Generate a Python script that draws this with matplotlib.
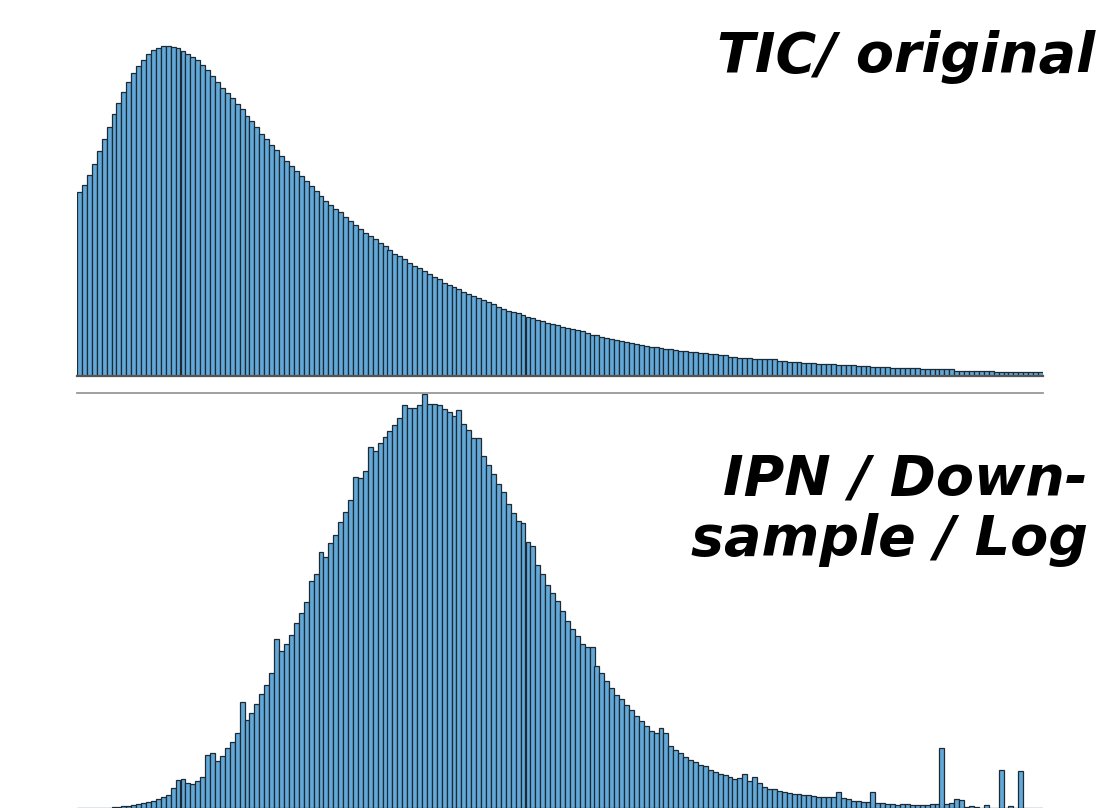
import numpy as np
import matplotlib
matplotlib.use("Agg")
import matplotlib.pyplot as plt

# bar heights (same 196 bins, arbitrary units)
tic_original = [
    185, 192, 202, 213, 226, 238, 250, 263, 274, 285,
    295, 304, 311, 317, 323, 327, 329, 331, 331, 330,
    329, 326, 323, 320, 317, 312, 307, 301, 295, 289,
    284, 279, 273, 268, 261, 256, 250, 243, 238, 232,
    227, 221, 216, 211, 206, 201, 196, 191, 186, 181,
    176, 172, 167, 164, 159, 155, 151, 147, 143, 140,
    137, 133, 130, 126, 122, 120, 117, 113, 110, 108,
    105, 102, 99, 97, 93, 91, 89, 87, 84, 82,
    80, 78, 76, 74, 72, 69, 67, 65, 64, 63,
    61, 59, 58, 56, 55, 53, 52, 51, 49, 48,
    47, 46, 45, 43, 41, 41, 39, 38, 37, 36,
    35, 34, 33, 32, 31, 30, 29, 29, 28, 27,
    27, 26, 25, 25, 24, 24, 23, 23, 22, 22,
    21, 21, 19, 19, 18, 18, 18, 17, 17, 17,
    17, 17, 15, 15, 14, 14, 14, 13, 13, 13,
    12, 12, 12, 12, 11, 11, 11, 11, 10, 10,
    10, 9, 9, 9, 9, 8, 8, 8, 8, 8,
    8, 7, 7, 7, 7, 7, 7, 7, 5, 5,
    5, 5, 5, 5, 5, 5, 4, 4, 4, 4,
    4, 4, 4, 4, 4, 4,
]

ipn_log = [
    0, 0, 0, 0.5, 0.5, 0.5, 0.5, 1, 1, 2,
    2, 3, 4, 5, 6, 7, 9, 11, 13, 20,
    28, 29, 25, 24, 27, 31, 53, 55, 47, 52,
    60, 66, 75, 106, 88, 95, 104, 114, 123, 135,
    169, 157, 164, 173, 185, 195, 206, 227, 234, 256,
    251, 265, 273, 286, 296, 308, 331, 330, 337, 361,
    357, 365, 371, 377, 383, 390, 403, 400, 400, 403,
    414, 404, 404, 403, 399, 396, 392, 398, 384, 378,
    370, 370, 352, 343, 334, 324, 316, 304, 295, 287,
    285, 266, 262, 243, 234, 223, 215, 207, 197, 187,
    179, 172, 164, 161, 161, 142, 135, 127, 120, 113,
    109, 103, 98, 92, 87, 82, 77, 75, 80, 75,
    62, 58, 55, 51, 48, 46, 43, 42, 38, 36,
    34, 33, 31, 29.5, 30.5, 34, 27.5, 31, 25, 21,
    19.5, 19, 17.5, 16.5, 15, 14, 14, 13, 13, 12,
    11, 11, 11, 11, 16.5, 10, 9, 7.5, 7, 6.5,
    6, 16.5, 5.5, 5, 4, 4, 3, 4, 4, 3,
    3, 3, 3, 4, 4, 60, 4, 5.5, 9, 8,
    1, 2, 1, 0.3, 3, 0, 0, 38.5, 0, 2,
    0, 37, 0, 0, 0, 0,
]

label_top = "TIC/ original"
label_bottom = "IPN / Down-\nsample / Log"

bar_color = "#62a8d8"
edge_color = "#1e2a33"

fig = plt.figure(figsize=(11.07, 8.08), dpi=100)
W, H = 1107, 808

ax1 = fig.add_axes([77 / W, 432 / H, 966 / W, 331 / H])
ax2 = fig.add_axes([77 / W, 0, 966 / W, 415 / H])

for ax, vals in ((ax1, tic_original), (ax2, ipn_log)):
    x = np.arange(len(vals))
    ax.bar(x, vals, width=1.0, align="edge", color=bar_color,
           edgecolor=edge_color, linewidth=0.9)
    ax.set_xlim(0, len(vals))
    ax.set_ylim(0, max(vals) * 1.003)
    ax.set_xticks([])
    ax.set_yticks([])
    for s in ax.spines.values():
        s.set_visible(False)

# baseline under the top histogram, thin grey rule above the bottom one
ax1.spines["bottom"].set_visible(True)
ax1.spines["bottom"].set_color("#555555")
ax1.spines["bottom"].set_linewidth(1.6)
ax2.spines["top"].set_visible(True)
ax2.spines["top"].set_color("#999999")
ax2.spines["top"].set_linewidth(1.3)

fig.text(1095 / W, 1 - 72 / H, label_top, ha="right", va="baseline",
         fontsize=40, fontweight="bold", style="italic", color="black")
fig.text(1088 / W, 1 - 555 / H, label_bottom, ha="right", va="baseline",
         multialignment="right", fontsize=40, fontweight="bold",
         style="italic", color="black", linespacing=1.15)

fig.savefig("out.png", dpi=100, facecolor="white")
